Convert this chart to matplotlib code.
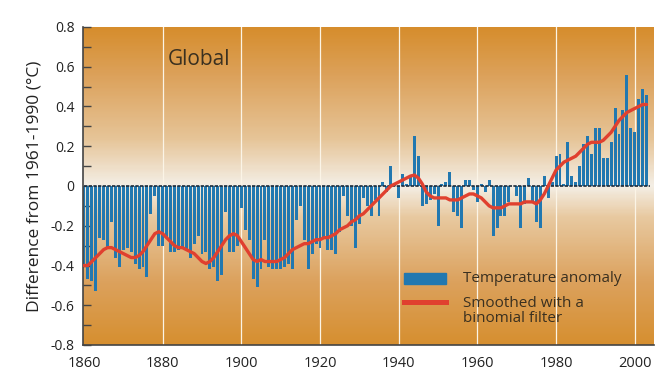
import numpy as np
import matplotlib
matplotlib.use('Agg')
import matplotlib.pyplot as plt
from matplotlib.colors import LinearSegmentedColormap
from matplotlib.patches import Rectangle

plt.rcParams['font.family'] = ['Open Sans', 'DejaVu Sans']
plt.rcParams['axes.unicode_minus'] = False

# annual global temperature anomaly, difference from 1961-1990 (deg C)
years = np.arange(1860, 2004)
anomaly = [
    -0.41, -0.47, -0.48, -0.53, -0.26, -0.27, -0.31, -0.18, -0.36, -0.41,  # 1860s
    -0.32, -0.31, -0.33, -0.39, -0.42, -0.41, -0.46, -0.14, -0.05, -0.30,  # 1870s
    -0.30, -0.26, -0.33, -0.33, -0.32, -0.31, -0.32, -0.36, -0.29, -0.25,  # 1880s
    -0.34, -0.33, -0.42, -0.41, -0.48, -0.45, -0.13, -0.33, -0.33, -0.30,  # 1890s
    -0.11, -0.22, -0.27, -0.47, -0.51, -0.42, -0.27, -0.41, -0.42, -0.42,  # 1900s
    -0.42, -0.41, -0.39, -0.42, -0.17, -0.10, -0.27, -0.42, -0.34, -0.29,  # 1910s
    -0.31, -0.26, -0.32, -0.32, -0.34, -0.23, -0.05, -0.15, -0.20, -0.31,  # 1920s
    -0.19, -0.06, -0.10, -0.15, -0.07, -0.15, 0.02, -0.03, 0.10, 0.01,     # 1930s
    -0.06, 0.06, 0.01, 0.05, 0.25, 0.15, -0.10, -0.09, -0.07, -0.04,       # 1940s
    -0.20, 0.01, 0.02, 0.07, -0.13, -0.15, -0.21, 0.03, 0.03, -0.02,       # 1950s
    -0.08, 0.01, -0.03, 0.03, -0.25, -0.21, -0.15, -0.15, -0.08, 0.00,     # 1960s
    -0.05, -0.21, -0.09, 0.04, -0.08, -0.18, -0.21, 0.05, -0.06, 0.02,     # 1970s
    0.15, 0.16, 0.01, 0.22, 0.05, 0.02, 0.10, 0.21, 0.25, 0.16,            # 1980s
    0.29, 0.29, 0.14, 0.14, 0.22, 0.39, 0.26, 0.38, 0.56, 0.29,            # 1990s
    0.27, 0.44, 0.49, 0.46,                                                # 2000s
]

# smoothed curve
smoothed = [
    -0.40, -0.40, -0.38, -0.36, -0.34, -0.32, -0.31, -0.31, -0.32, -0.33,
    -0.34, -0.35, -0.36, -0.36, -0.35, -0.33, -0.30, -0.27, -0.24, -0.23,
    -0.24, -0.26, -0.28, -0.30, -0.31, -0.31, -0.32, -0.33, -0.34, -0.36,
    -0.38, -0.39, -0.38, -0.36, -0.33, -0.30, -0.27, -0.25, -0.24, -0.25,
    -0.28, -0.31, -0.34, -0.37, -0.38, -0.37, -0.38, -0.38, -0.38, -0.38,
    -0.37, -0.36, -0.34, -0.32, -0.31, -0.30, -0.29, -0.29, -0.28, -0.27,
    -0.27, -0.26, -0.26, -0.25, -0.24, -0.22, -0.21, -0.20, -0.18, -0.17,
    -0.15, -0.14, -0.12, -0.10, -0.08, -0.06, -0.04, -0.02, 0.00, 0.01,
    0.02, 0.03, 0.04, 0.05, 0.055, 0.04, 0.01, -0.03, -0.05, -0.06,
    -0.06, -0.06, -0.06, -0.07, -0.07, -0.07, -0.06, -0.05, -0.04, -0.04,
    -0.05, -0.06, -0.08, -0.10, -0.11, -0.11, -0.11, -0.10, -0.09, -0.09,
    -0.09, -0.09, -0.08, -0.08, -0.08, -0.09, -0.07, -0.04, 0.00, 0.04,
    0.08, 0.10, 0.12, 0.13, 0.14, 0.15, 0.17, 0.19, 0.21, 0.22,
    0.22, 0.22, 0.23, 0.25, 0.27, 0.30, 0.33, 0.35, 0.37, 0.38,
    0.39, 0.40, 0.41, 0.41,
]

grid_years = [1880, 1900, 1920, 1940, 1960, 1980, 2000]
xticks = [1860, 1880, 1900, 1920, 1940, 1960, 1980, 2000]
yticks = [-0.8, -0.6, -0.4, -0.2, 0, 0.2, 0.4, 0.6, 0.8]
ytick_labels = ['-0.8', '-0.6', '-0.4', '-0.2', '0', '0.2', '0.4', '0.6', '0.8']

fig = plt.figure(figsize=(6.7, 3.85), dpi=100)
ax = fig.add_axes([83 / 670, 40 / 385, 571 / 670, 318 / 385])
x0, x1 = 1859.75, 2004.9
ax.set_xlim(x0, x1)
ax.set_ylim(-0.8, 0.8)

# orange -> cream -> orange background
bg = LinearSegmentedColormap.from_list('bg', [
    (0.0, '#d68f30'), (0.2, '#dca25e'), (0.4, '#e8c9a0'), (0.5, '#f4efe6'),
    (0.53, '#f1e6d6'), (0.65, '#e6c497'), (0.85, '#dca15a'), (1.0, '#d68d2c')])
grad = np.linspace(-0.8, 0.8, 300).reshape(-1, 1)
ax.imshow(grad, extent=[x0, x1, -0.8, 0.8], origin='lower', aspect='auto',
          cmap=bg, vmin=-0.8, vmax=0.8, zorder=0)

for gx in grid_years:
    ax.axvline(gx, color='#fbf4e6', lw=0.9, zorder=1)

ax.bar(years, anomaly, width=0.75, color='#2278b0', zorder=2)
ax.plot([1859.9, 2004], [0, 0], color='#1d2b3a', lw=1.2, ls=(0, (2, 0.8)), zorder=3)
ax.plot(years, smoothed, color='#e0402f', lw=2.4, zorder=4, solid_capstyle='round')

ax.set_xticks(xticks)
ax.set_xticklabels([str(t) for t in xticks])
ax.set_yticks(yticks)
ax.set_yticklabels(ytick_labels)
ax.set_yticks(np.arange(-0.7, 0.8, 0.2), minor=True)
ax.tick_params(axis='y', which='both', direction='in', length=6, width=1,
               color='#444444', labelsize=10, labelcolor='#222222', pad=6)
ax.tick_params(axis='x', length=0, labelsize=10.5, labelcolor='#222222', pad=8)

for side in ['top', 'right']:
    ax.spines[side].set_visible(False)
ax.spines['left'].set_color('#444444')
ax.spines['left'].set_linewidth(1.2)
ax.spines['bottom'].set_color('#444444')
ax.spines['bottom'].set_linewidth(1.2)

ax.set_ylabel('Difference from 1961-1990 (°C)', fontsize=12.5, color='#222222', labelpad=6)

ax.text(1881.4, 0.636, 'Global', fontsize=15, color='#3a3020', va='center', ha='left')

# legend drawn by hand
ax.add_patch(Rectangle((1941.3, -0.492), 10.7, 0.054, color='#2278b0', zorder=5))
ax.plot([1941.3, 1952], [-0.584, -0.584], color='#e0402f', lw=3.6, zorder=5)
ax.text(1956.4, -0.465, 'Temperature anomaly', fontsize=11, color='#3a3020', va='center')
ax.text(1956.4, -0.63, 'Smoothed with a\nbinomial filter', fontsize=11, color='#3a3020',
        va='center', linespacing=1.0)

fig.savefig('out.png', dpi=100)
